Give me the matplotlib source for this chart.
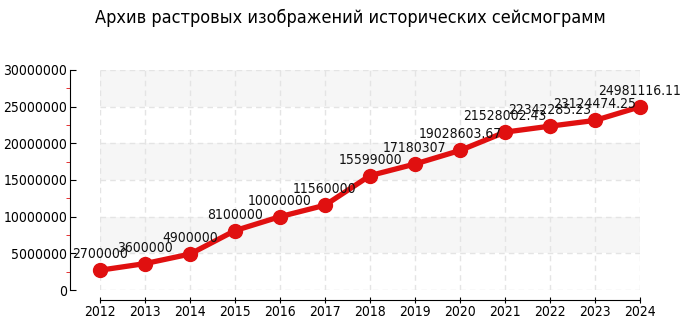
import matplotlib
matplotlib.use("Agg")
import matplotlib.pyplot as plt
from matplotlib.ticker import MultipleLocator

years = [2012, 2013, 2014, 2015, 2016, 2017, 2018, 2019, 2020, 2021, 2022, 2023, 2024]
values = [2700000, 3600000, 4900000, 8100000, 10000000, 11560000, 15599000,
          17180307, 19028603.67, 21528002.43, 22342285.23, 23124474.25, 24981116.11]
labels = ["2700000", "3600000", "4900000", "8100000", "10000000", "11560000", "15599000",
          "17180307", "19028603.67", "21528002.43", "22342285.23", "23124474.25", "24981116.11"]
title = "Архив растровых изображений исторических сейсмограмм"

plt.rcParams["font.family"] = ["DejaVu Sans"]
plt.rcParams["font.stretch"] = "condensed"

fig = plt.figure(figsize=(7, 3.25), dpi=100)
ax = fig.add_axes([100/700, 35/325, 540/700, 220/325])
ax.set_xlim(2012, 2024)
ax.set_ylim(0, 30000000)

for lo in (5e6, 15e6, 25e6):
    ax.axhspan(lo, lo + 5e6, color="#f6f6f6", zorder=0, lw=0)
for y in range(0, 30000001, 5000000):
    ax.axhline(y, color="#e4e4e4", lw=1, ls=(0, (4, 3)), zorder=1)
for x in years:
    ax.axvline(x, color="#e4e4e4", lw=1, ls=(0, (4, 3)), zorder=1)

ax.plot(years, values, color="#e01010", lw=3.8, marker="o", ms=10, zorder=3, clip_on=False)
for x, v, t in zip(years, values, labels):
    ax.annotate(t, (x, v), xytext=(0, 6.5), textcoords="offset points",
                ha="center", va="bottom", fontsize=10, color="#111111", zorder=4)

for s in ("top", "right"):
    ax.spines[s].set_visible(False)
ax.spines["left"].set_position(("outward", 30 * 0.72))
ax.spines["bottom"].set_position(("outward", 10 * 0.72))
ax.spines["left"].set_bounds(0, 30000000)
ax.spines["bottom"].set_bounds(2012, 2024)

ax.set_xticks(years)
ax.set_xticklabels([str(y) for y in years])
ax.yaxis.set_major_locator(MultipleLocator(5000000))
ax.yaxis.set_minor_locator(MultipleLocator(2500000))
ax.set_yticklabels([str(int(v)) for v in ax.get_yticks()])
ax.tick_params(axis="x", direction="inout", length=5, labelsize=10, pad=1)
ax.tick_params(axis="y", which="major", direction="in", length=4, labelsize=10, pad=2)
ax.tick_params(axis="y", which="minor", direction="out", length=3, color="#e01010")

fig.text(0.5, 1 - 18/325, title, ha="center", va="center", fontsize=13)
fig.savefig("out.png", dpi=100)
